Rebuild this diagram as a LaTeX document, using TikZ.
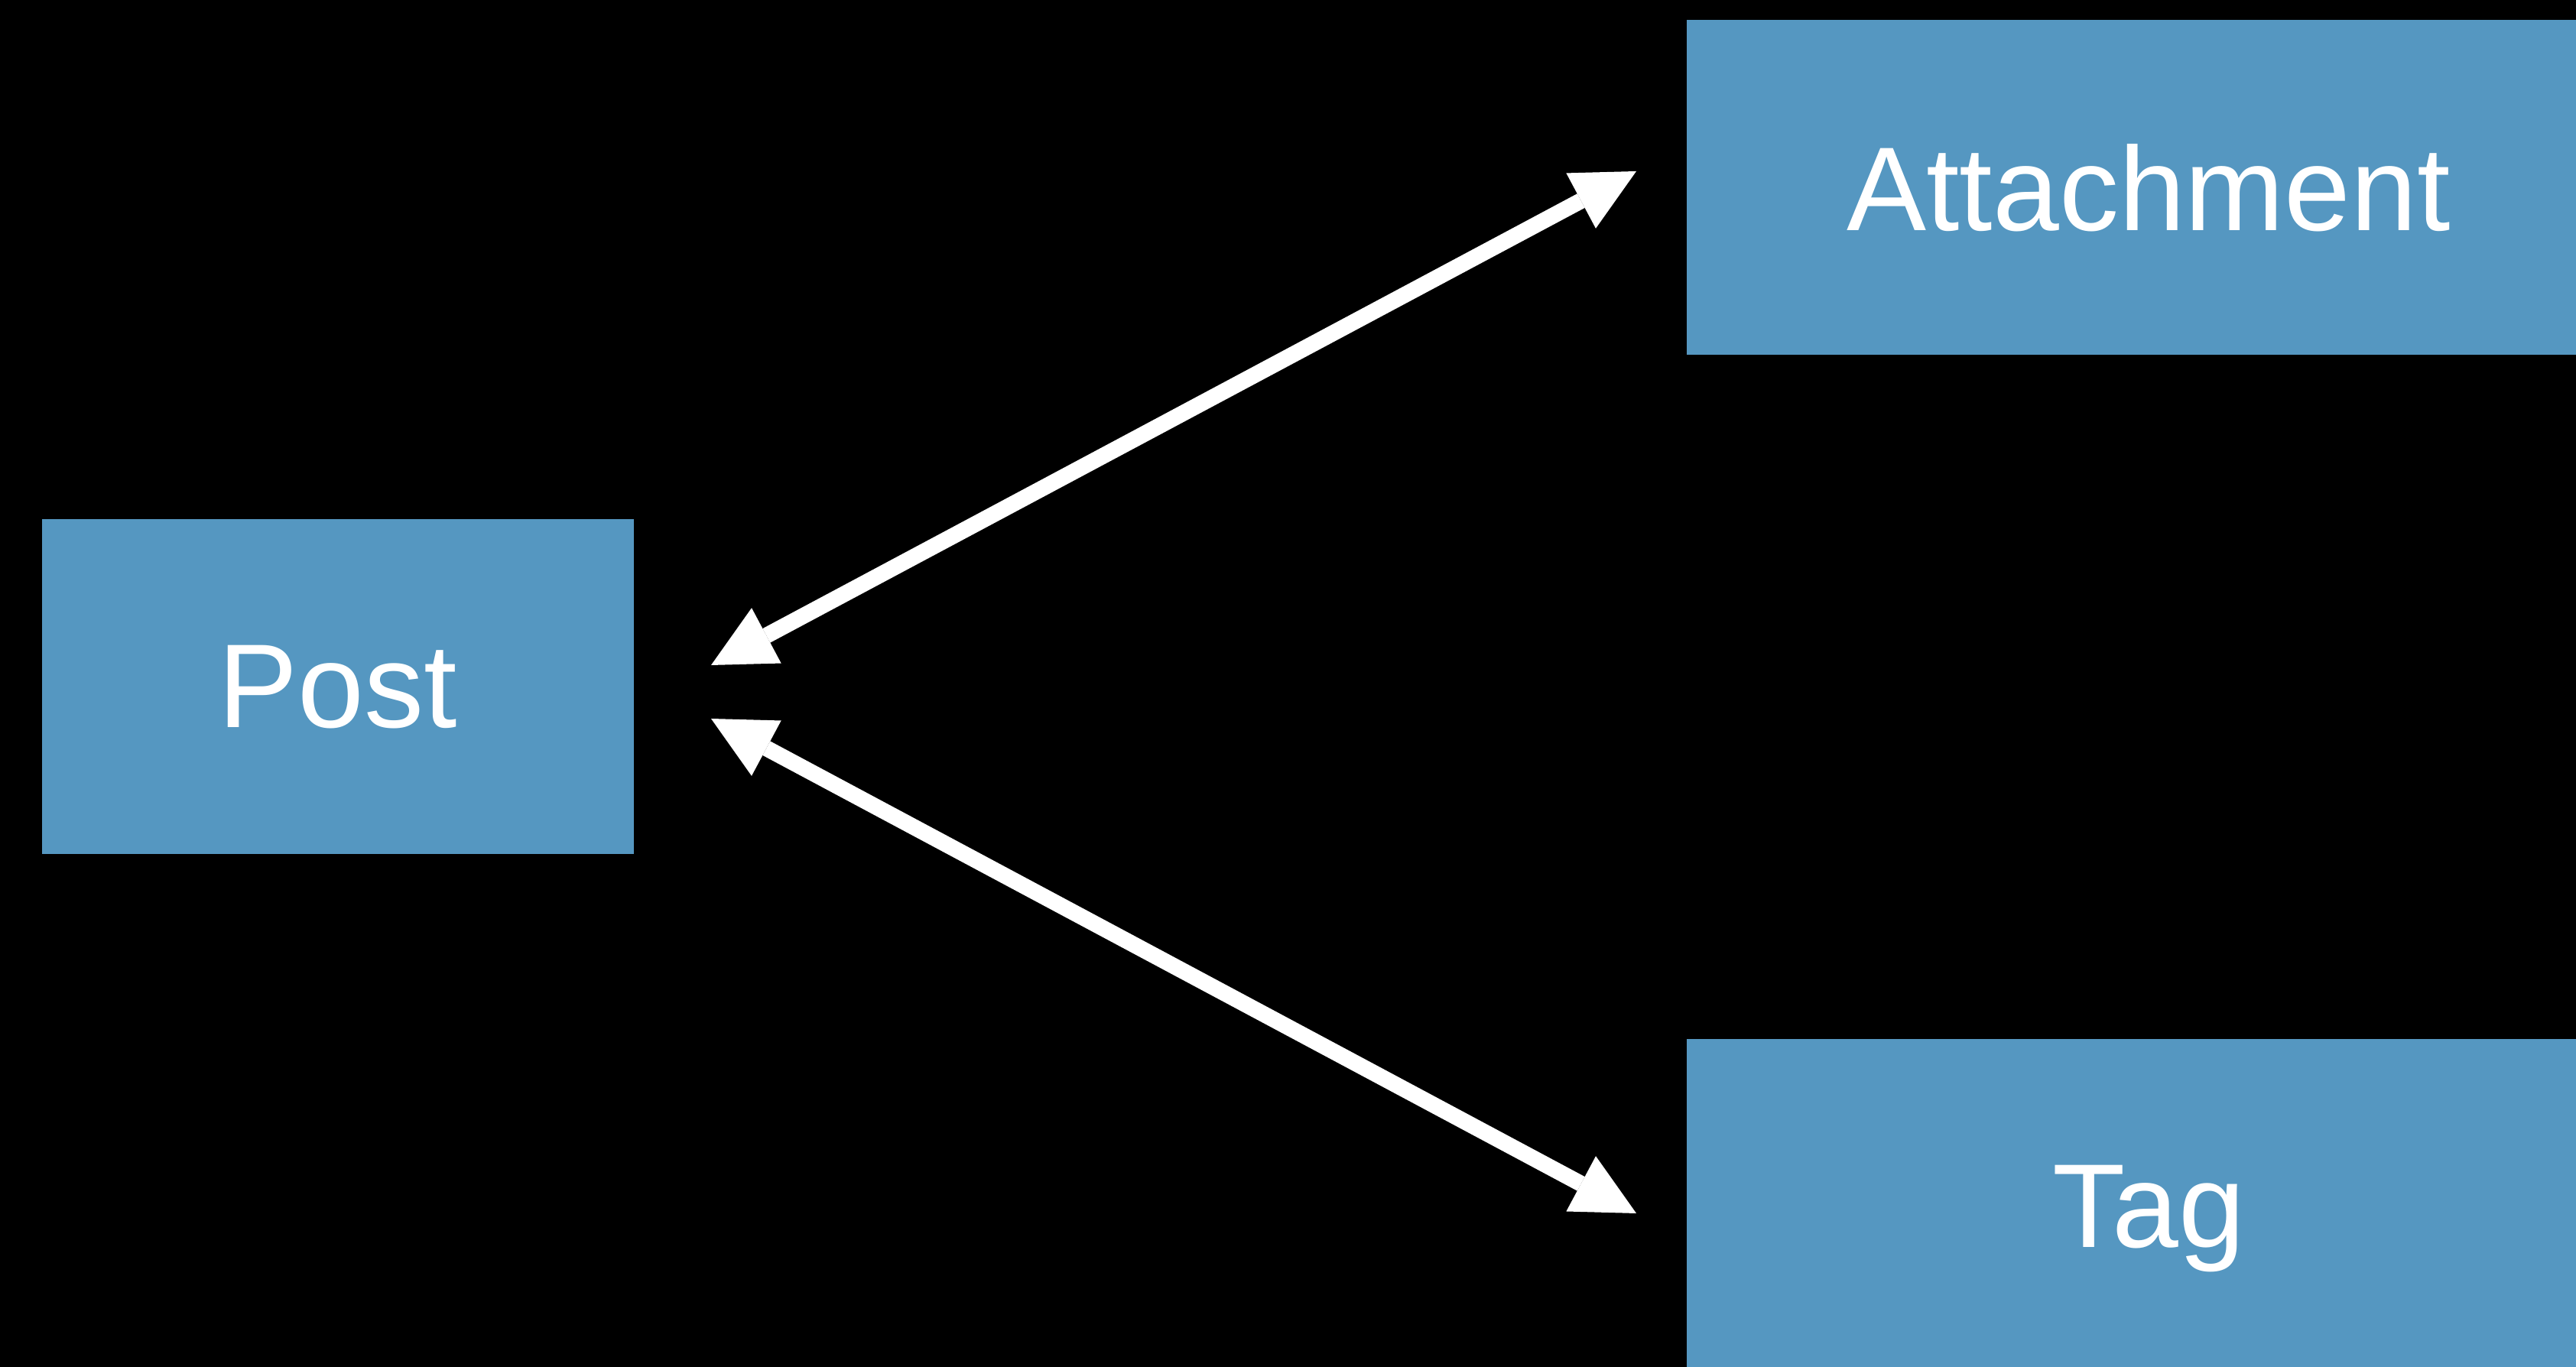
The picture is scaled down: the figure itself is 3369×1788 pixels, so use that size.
\documentclass[tikz,border=0pt]{standalone}
\usepackage{fontspec}
\setmainfont{Liberation Sans}
\usepackage{tikz}
\usetikzlibrary{arrows.meta,positioning}

\definecolor{entityblue}{RGB}{85,151,193}

\begin{document}
\begin{tikzpicture}[x=0.1pt,y=0.1pt]
	\tikzset{entity/.style={fill=entityblue,text=white,inner sep=0pt,text depth=0pt,
		font=\fontsize{15.6}{18}\selectfont,minimum height=43.8pt}}
	\tikzset{relation/.style={draw=white,line width=2.1pt,
		{Triangle[length=8.2pt,width=8.2pt,line width=0pt,fill=white]}-{Triangle[length=8.2pt,width=8.2pt,line width=0pt,fill=white]}}}

	\fill[black] (0,0) rectangle (3369,-1788);
	\clip (0,0) rectangle (3369,-1788);

	\node[entity,minimum width=77.5pt] (post) at (442,-898) {Post};
	\node[entity,minimum width=120.8pt] (attachment) at (2810,-245) {Attachment};
	\node[entity,minimum width=120.8pt] (tag) at (2810,-1578) {Tag};

	%% arrow ends
	\coordinate (postA) at (930,-870);
	\coordinate (postT) at (930,-940);
	\coordinate (attachA) at (2140,-224);
	\coordinate (tagT) at (2140,-1587);

	\path
		(postA) edge[relation] (attachA)
		(postT) edge[relation] (tagT);
\end{tikzpicture}
\end{document}
